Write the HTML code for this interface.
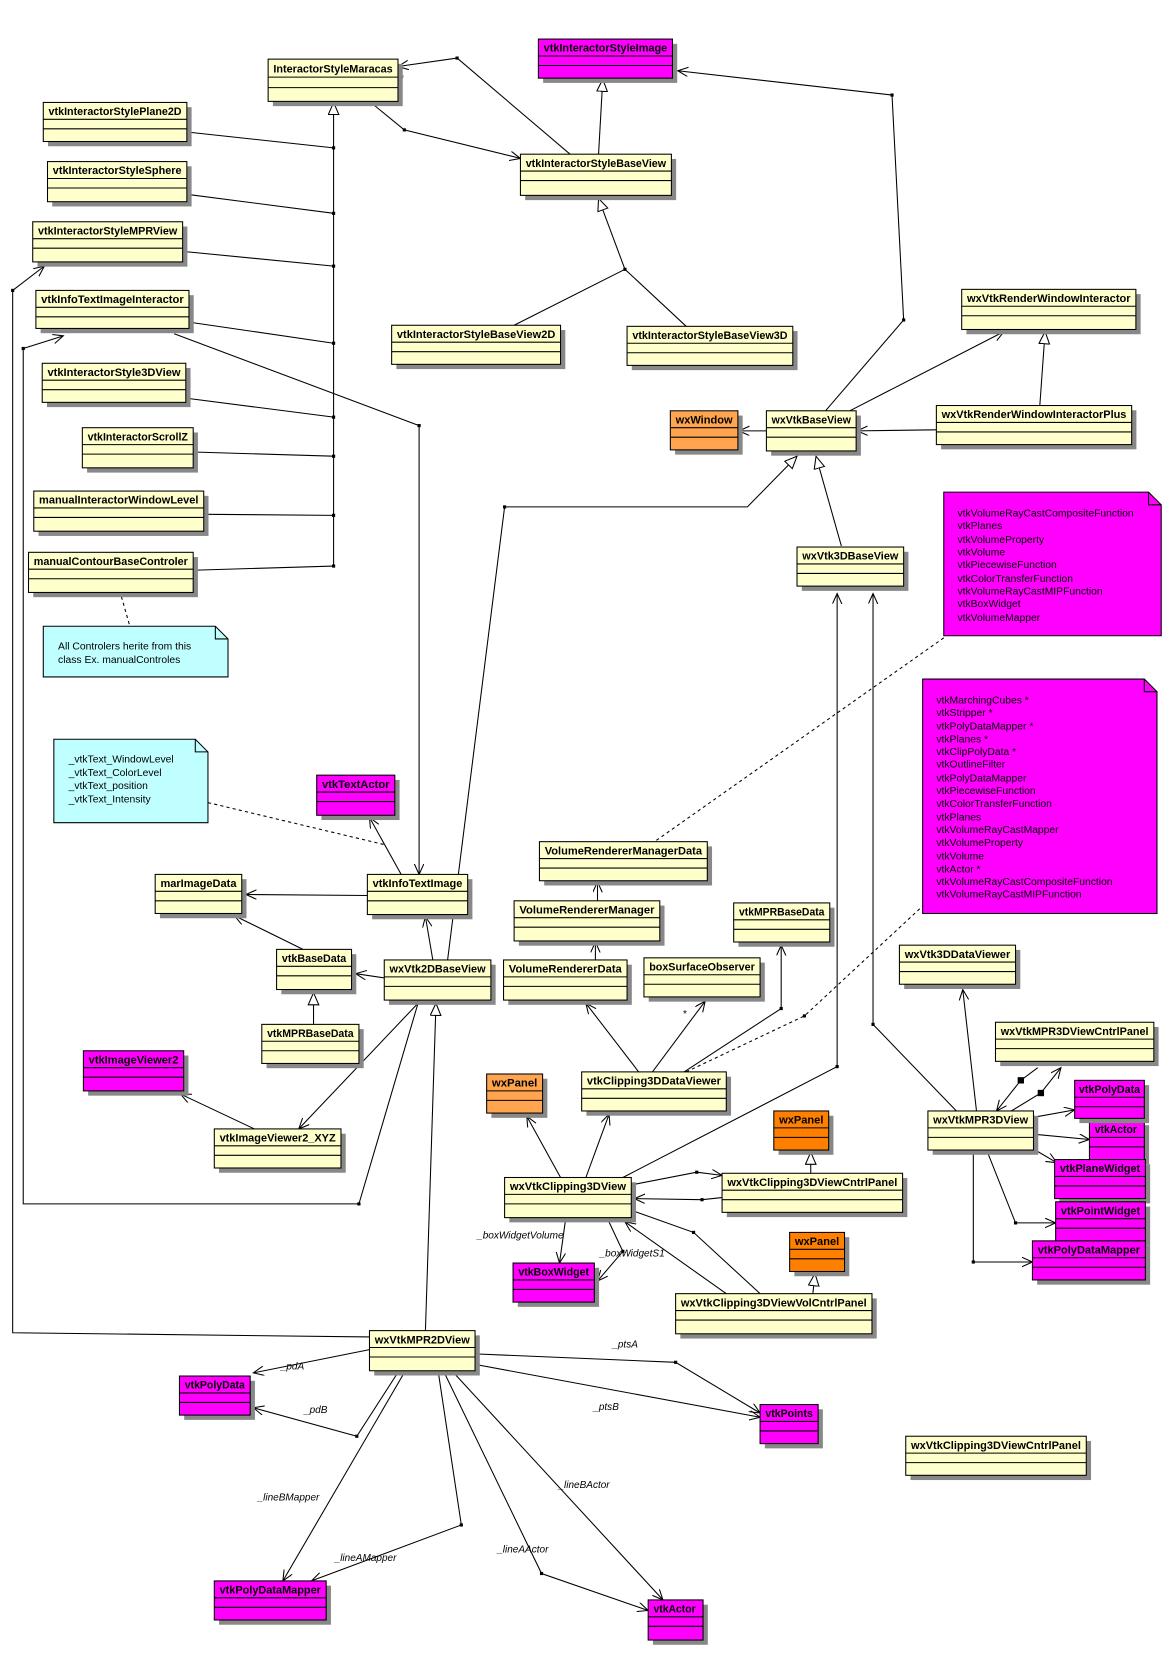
<!DOCTYPE html>
<html><head><meta charset="utf-8"><style>
html,body{margin:0;padding:0;background:#fff;}
svg{display:block;}
.t{font-family:"Liberation Sans",sans-serif;font-weight:bold;font-size:10.5px;}
.n{font-family:"Liberation Sans",sans-serif;font-size:9.8px;}
.l{font-family:"Liberation Sans",sans-serif;font-style:italic;font-size:9.5px;}
</style></head><body>
<svg width="1176" height="1658" viewBox="0 0 1114 1570" preserveAspectRatio="none" xmlns="http://www.w3.org/2000/svg">
<defs>
<marker id="a" markerUnits="userSpaceOnUse" markerWidth="12" markerHeight="10" refX="10" refY="4.5" orient="auto"><path d="M0,0 L10,4.5 L0,9" fill="none" stroke="#000" stroke-width="1"/></marker>
<marker id="tr" markerUnits="userSpaceOnUse" markerWidth="14" markerHeight="12" refX="12" refY="5.5" orient="auto"><path d="M0.5,0.5 L12,5.5 L0.5,10.5 Z" fill="#fff" stroke="#000" stroke-width="1"/></marker>
</defs>
<rect width="1114" height="1570" fill="#fff"/>

<!-- connectors -->
<g fill="none" stroke="#000" stroke-width="1">
<polyline points="316,537 316,97" marker-end="url(#tr)"/>
<polyline points="177,125 316,140"/>
<polyline points="177,184 316,202"/>
<polyline points="173,238 316,252"/>
<polyline points="179,305 316,325"/>
<polyline points="176,377 316,395"/>
<polyline points="183,428 316,432"/>
<polyline points="193,487 316,488"/>
<polyline points="183,540 316,536"/>
<polyline points="350,96 383,123 493,150" marker-end="url(#a)"/>
<polyline points="433,55 377,63" marker-end="url(#a)"/>
<polyline points="433,55 540,146"/>
<polyline points="567,146 571,75" marker-end="url(#tr)"/>
<polyline points="782,389 856,303 845,90 642,67" marker-end="url(#a)"/>
<polyline points="487,308 592,255"/>
<polyline points="650,309 592,255 567,188" marker-end="url(#tr)"/>
<polyline points="726,408 700,408" marker-end="url(#a)"/>
<polyline points="887,407 812,408" marker-end="url(#a)"/>
<polyline points="805,389 951,314" marker-end="url(#a)"/>
<polyline points="985,384 990,314" marker-end="url(#tr)"/>
<polyline points="797,517 773,432" marker-end="url(#tr)"/>
<polyline points="424,909 478,480 708,480 755,432" marker-end="url(#tr)"/>
<polyline points="165,316 397,403 397,828" marker-end="url(#a)"/>
<polyline points="380,828 350,774" marker-end="url(#a)"/>
<polyline points="348,848 233,847" marker-end="url(#a)"/>
<polyline points="287,899 222,867" marker-end="url(#a)"/>
<polyline points="297,970 297,940" marker-end="url(#tr)"/>
<polyline points="364,926 337,922" marker-end="url(#a)"/>
<polyline points="410,909 403,868" marker-end="url(#a)"/>
<polyline points="396,950 283,1069" marker-end="url(#a)"/>
<polyline points="241,1069 171,1036" marker-end="url(#a)"/>
<polyline points="22,330 60,318" marker-end="url(#a)"/>
<polyline points="22,330 22,1140 340,1140 396,950"/>
<polyline points="12,275 42,252" marker-end="url(#a)"/>
<polyline points="12,275 12,1262 350,1266"/>
<polyline points="403,1260 413,950" marker-end="url(#tr)"/>
<polyline points="590,1115 793,1010 793,562" marker-end="url(#a)"/>
<polyline points="906,1052 827,970 827,562" marker-end="url(#a)"/>
<polyline points="925,1052 912,937" marker-end="url(#a)"/>
<polyline points="983,1011 967,1023 944,1052" marker-end="url(#a)"/>
<polyline points="958,1052 986,1035 1005,1011" marker-end="url(#a)"/>
<polyline points="979,1058 1018,1051" marker-end="url(#a)"/>
<polyline points="979,1074 1032,1079" marker-end="url(#a)"/>
<polyline points="979,1088 1001,1101" marker-end="url(#a)"/>
<polyline points="935,1090 962,1158 1000,1158" marker-end="url(#a)"/>
<polyline points="922,1090 922,1195 978,1195" marker-end="url(#a)"/>
<polyline points="605,1015 555,950" marker-end="url(#a)"/>
<polyline points="618,1015 668,948" marker-end="url(#a)"/>
<polyline points="648,1015 740,955 740,895" marker-end="url(#a)"/>
<polyline points="564,909 564,892" marker-end="url(#a)"/>
<polyline points="566,853 566,835" marker-end="url(#a)"/>
<polyline points="531,1115 499,1057" marker-end="url(#a)"/>
<polyline points="555,1115 577,1055" marker-end="url(#a)"/>
<polyline points="598,1122 660,1110 684,1113" marker-end="url(#a)"/>
<polyline points="684,1134 665,1136 601,1135" marker-end="url(#a)"/>
<polyline points="598,1146 657,1167 720,1225"/>
<polyline points="688,1225 592,1157" marker-end="url(#a)"/>
<polyline points="768,1111 768,1091" marker-end="url(#tr)"/>
<polyline points="770,1225 772,1206" marker-end="url(#tr)"/>
<polyline points="536,1153 530,1196" marker-end="url(#a)"/>
<polyline points="575,1153 590,1185 566,1213" marker-end="url(#a)"/>
<polyline points="350,1278 240,1300" marker-end="url(#a)"/>
<polyline points="378,1298 338,1360 240,1333" marker-end="url(#a)"/>
<polyline points="384,1298 268,1497" marker-end="url(#a)"/>
<polyline points="415,1298 437,1444 295,1497" marker-end="url(#a)"/>
<polyline points="420,1298 513,1490 614,1525" marker-end="url(#a)"/>
<polyline points="428,1298 628,1515" marker-end="url(#a)"/>
<polyline points="450,1282 640,1290 720,1338" marker-end="url(#a)"/>
<polyline points="450,1292 720,1342" marker-end="url(#a)"/>
</g>
<g fill="none" stroke="#000" stroke-width="1" stroke-dasharray="3,3">
<polyline points="197,760 365,800"/>
<polyline points="894,604 620,797"/>
<polyline points="650,1015 762,962 874,858"/>
<polyline points="115,565 123,593"/>
</g>
<g fill="#000">
<rect x="314.5" y="138.5" width="3" height="3"/><rect x="314.5" y="200.5" width="3" height="3"/>
<rect x="314.5" y="250.5" width="3" height="3"/><rect x="314.5" y="323.5" width="3" height="3"/>
<rect x="314.5" y="393.5" width="3" height="3"/><rect x="314.5" y="430.5" width="3" height="3"/>
<rect x="314.5" y="486.5" width="3" height="3"/><rect x="314.5" y="534.5" width="3" height="3"/>
<rect x="381.5" y="121.5" width="3" height="3"/><rect x="431.5" y="53.5" width="3" height="3"/>
<rect x="843.5" y="88.5" width="3" height="3"/><rect x="854.5" y="301.5" width="3" height="3"/>
<rect x="590.5" y="253.5" width="3" height="3"/><rect x="476.5" y="478.5" width="3" height="3"/>
<rect x="395.5" y="401.5" width="3" height="3"/><rect x="20.5" y="328.5" width="3" height="3"/>
<rect x="10.5" y="273.5" width="3" height="3"/><rect x="338.5" y="1138.5" width="3" height="3"/>
<rect x="791.5" y="1008.5" width="3" height="3"/><rect x="825.5" y="968.5" width="3" height="3"/>
<rect x="964" y="1020" width="6" height="6"/><rect x="983" y="1032" width="6" height="6"/>
<rect x="960.5" y="1156.5" width="3" height="3"/><rect x="920.5" y="1193.5" width="3" height="3"/>
<rect x="738.5" y="953.5" width="3" height="3"/><rect x="760.5" y="960.5" width="3" height="3"/>
<rect x="658.5" y="1108.5" width="3" height="3"/><rect x="663.5" y="1134.5" width="3" height="3"/>
<rect x="655.5" y="1165.5" width="3" height="3"/><rect x="588.5" y="1183.5" width="3" height="3"/>
<rect x="336.5" y="1358.5" width="3" height="3"/><rect x="435.5" y="1442.5" width="3" height="3"/>
<rect x="511.5" y="1488.5" width="3" height="3"/><rect x="638.5" y="1288.5" width="3" height="3"/>
</g>

<!-- labels -->
<g class="l">
<text x="379" y="77" style="font-style:normal">*</text>
<text x="647" y="963" style="font-style:normal">*</text>
<text x="452" y="1173">_boxWidgetVolume</text>
<text x="568" y="1190">_boxWidgetS1</text>
<text x="266" y="1297">_pdA</text>
<text x="288" y="1338">_pdB</text>
<text x="244" y="1421">_lineBMapper</text>
<text x="317" y="1478">_lineAMapper</text>
<text x="471" y="1470">_lineAActor</text>
<text x="529" y="1409">_lineBActor</text>
<text x="580" y="1276">_ptsA</text>
<text x="562" y="1335">_ptsB</text>
</g>

<!-- notes -->
<path d="M894,466 H1088 L1100,478 V602 H894 Z" fill="#ff00ff" stroke="#000"/>
<path d="M1088,466 V478 H1100" fill="none" stroke="#000"/>
<g class="n">
<text x="907" y="489">vtkVolumeRayCastCompositeFunction</text>
<text x="907" y="501">vtkPlanes</text>
<text x="907" y="514">vtkVolumeProperty</text>
<text x="907" y="526">vtkVolume</text>
<text x="907" y="538">vtkPiecewiseFunction</text>
<text x="907" y="551">vtkColorTransferFunction</text>
<text x="907" y="563">vtkVolumeRayCastMIPFunction</text>
<text x="907" y="575">vtkBoxWidget</text>
<text x="907" y="588">vtkVolumeMapper</text>
</g>
<path d="M874,643 H1084 L1096,655 V865 H874 Z" fill="#ff00ff" stroke="#000"/>
<path d="M1084,643 V655 H1096" fill="none" stroke="#000"/>
<g class="n">
<text x="887" y="666">vtkMarchingCubes *</text>
<text x="887" y="678">vtkStripper *</text>
<text x="887" y="691">vtkPolyDataMapper *</text>
<text x="887" y="703">vtkPlanes *</text>
<text x="887" y="715">vtkClipPolyData *</text>
<text x="887" y="727">vtkOutlineFilter</text>
<text x="887" y="740">vtkPolyDataMapper</text>
<text x="887" y="752">vtkPiecewiseFunction</text>
<text x="887" y="764">vtkColorTransferFunction</text>
<text x="887" y="777">vtkPlanes</text>
<text x="887" y="789">vtkVolumeRayCastMapper</text>
<text x="887" y="801">vtkVolumeProperty</text>
<text x="887" y="814">vtkVolume</text>
<text x="887" y="826">vtkActor *</text>
<text x="887" y="838">vtkVolumeRayCastCompositeFunction</text>
<text x="887" y="850">vtkVolumeRayCastMIPFunction</text>
</g>
<path d="M41,593 H204 L216,605 V641 H41 Z" fill="#c0ffff" stroke="#000"/>
<path d="M204,593 V605 H216" fill="none" stroke="#000"/>
<g class="n"><text x="55" y="615">All Controlers herite from this</text><text x="55" y="628">class Ex. manualControles</text></g>
<path d="M51,700 H185 L197,712 V779 H51 Z" fill="#c0ffff" stroke="#000"/>
<path d="M185,700 V712 H197" fill="none" stroke="#000"/>
<g class="n">
<text x="65" y="722">_vtkText_WindowLevel</text>
<text x="65" y="735">_vtkText_ColorLevel</text>
<text x="65" y="747">_vtkText_position</text>
<text x="65" y="760">_vtkText_Intensity</text>
</g>

<!-- boxes -->
<g stroke="#000" stroke-width="1">
<!-- template: shadow, box, lines, title -->
<g><rect x="258.5" y="60.5" width="123" height="40" fill="#888" stroke="none"/><rect x="254" y="56" width="123" height="40" fill="#ffffcc"/><path d="M254,73H377M254,83H377"/><text class="t" stroke="none" x="259" y="68.5" textLength="113" lengthAdjust="spacingAndGlyphs">InteractorStyleMaracas</text></g>
<g><rect x="514.5" y="41.5" width="127" height="37" fill="#888" stroke="none"/><rect x="510" y="37" width="127" height="37" fill="#ff00ff"/><path d="M510,53H637M510,62H637"/><text class="t" stroke="none" x="515" y="49" textLength="117" lengthAdjust="spacingAndGlyphs">vtkInteractorStyleImage</text></g>
<g><rect x="45.5" y="101.5" width="136" height="37" fill="#888" stroke="none"/><rect x="41" y="97" width="136" height="37" fill="#ffffcc"/><path d="M41,113H177M41,122H177"/><text class="t" stroke="none" x="46" y="109" textLength="126" lengthAdjust="spacingAndGlyphs">vtkInteractorStylePlane2D</text></g>
<g><rect x="49.5" y="157.5" width="132" height="38" fill="#888" stroke="none"/><rect x="45" y="153" width="132" height="38" fill="#ffffcc"/><path d="M45,169H177M45,178H177"/><text class="t" stroke="none" x="50" y="165" textLength="122" lengthAdjust="spacingAndGlyphs">vtkInteractorStyleSphere</text></g>
<g><rect x="35.5" y="214.5" width="142" height="38" fill="#888" stroke="none"/><rect x="31" y="210" width="142" height="38" fill="#ffffcc"/><path d="M31,226H173M31,235H173"/><text class="t" stroke="none" x="36" y="222" textLength="132" lengthAdjust="spacingAndGlyphs">vtkInteractorStyleMPRView</text></g>
<g><rect x="38.5" y="279.5" width="145" height="36" fill="#888" stroke="none"/><rect x="34" y="275" width="145" height="36" fill="#ffffcc"/><path d="M34,291H179M34,300H179"/><text class="t" stroke="none" x="39" y="287" textLength="135" lengthAdjust="spacingAndGlyphs">vtkInfoTextImageInteractor</text></g>
<g><rect x="497.5" y="150.5" width="143" height="39" fill="#888" stroke="none"/><rect x="493" y="146" width="143" height="39" fill="#ffffcc"/><path d="M493,162H636M493,171H636"/><text class="t" stroke="none" x="498" y="158" textLength="133" lengthAdjust="spacingAndGlyphs">vtkInteractorStyleBaseView</text></g>
<g><rect x="375.5" y="312.5" width="160" height="37" fill="#888" stroke="none"/><rect x="371" y="308" width="160" height="37" fill="#ffffcc"/><path d="M371,324H531M371,333H531"/><text class="t" stroke="none" x="376" y="320" textLength="150" lengthAdjust="spacingAndGlyphs">vtkInteractorStyleBaseView2D</text></g>
<g><rect x="598.5" y="313.5" width="157" height="37" fill="#888" stroke="none"/><rect x="594" y="309" width="157" height="37" fill="#ffffcc"/><path d="M594,325H751M594,334H751"/><text class="t" stroke="none" x="599" y="321" textLength="147" lengthAdjust="spacingAndGlyphs">vtkInteractorStyleBaseView3D</text></g>
<g><rect x="915.5" y="278.5" width="165" height="38" fill="#888" stroke="none"/><rect x="911" y="274" width="165" height="38" fill="#ffffcc"/><path d="M911,290H1076M911,299H1076"/><text class="t" stroke="none" x="916" y="286" textLength="155" lengthAdjust="spacingAndGlyphs">wxVtkRenderWindowInteractor</text></g>
<g><rect x="44.5" y="348.5" width="136" height="37" fill="#888" stroke="none"/><rect x="40" y="344" width="136" height="37" fill="#ffffcc"/><path d="M40,360H176M40,369H176"/><text class="t" stroke="none" x="45" y="356" textLength="126" lengthAdjust="spacingAndGlyphs">vtkInteractorStyle3DView</text></g>
<g><rect x="82.5" y="409.5" width="105" height="38" fill="#888" stroke="none"/><rect x="78" y="405" width="105" height="38" fill="#ffffcc"/><path d="M78,421H183M78,430H183"/><text class="t" stroke="none" x="83" y="417" textLength="95" lengthAdjust="spacingAndGlyphs">vtkInteractorScrollZ</text></g>
<g><rect x="36.5" y="469.5" width="161" height="38" fill="#888" stroke="none"/><rect x="32" y="465" width="161" height="38" fill="#ffffcc"/><path d="M32,481H193M32,490H193"/><text class="t" stroke="none" x="37" y="477" textLength="151" lengthAdjust="spacingAndGlyphs">manualInteractorWindowLevel</text></g>
<g><rect x="31.5" y="527.5" width="156" height="38" fill="#888" stroke="none"/><rect x="27" y="523" width="156" height="38" fill="#ffffcc"/><path d="M27,539H183M27,548H183"/><text class="t" stroke="none" x="32" y="535" textLength="146" lengthAdjust="spacingAndGlyphs">manualContourBaseControler</text></g>
<g><rect x="639.5" y="393.5" width="64" height="37" fill="#888" stroke="none"/><rect x="635" y="389" width="64" height="37" fill="#ffa54f"/><path d="M635,405H699M635,414H699"/><text class="t" stroke="none" x="640" y="401" textLength="54" lengthAdjust="spacingAndGlyphs">wxWindow</text></g>
<g><rect x="730.5" y="393.5" width="85" height="38" fill="#888" stroke="none"/><rect x="726" y="389" width="85" height="38" fill="#ffffcc"/><path d="M726,405H811M726,414H811"/><text class="t" stroke="none" x="731" y="401" textLength="75" lengthAdjust="spacingAndGlyphs">wxVtkBaseView</text></g>
<g><rect x="891.5" y="388.5" width="185" height="37" fill="#888" stroke="none"/><rect x="887" y="384" width="185" height="37" fill="#ffffcc"/><path d="M887,400H1072M887,409H1072"/><text class="t" stroke="none" x="892" y="396" textLength="175" lengthAdjust="spacingAndGlyphs">wxVtkRenderWindowInteractorPlus</text></g>
<g><rect x="759.5" y="522.5" width="101" height="37" fill="#888" stroke="none"/><rect x="755" y="518" width="101" height="37" fill="#ffffcc"/><path d="M755,534H856M755,543H856"/><text class="t" stroke="none" x="760" y="530" textLength="91" lengthAdjust="spacingAndGlyphs">wxVtk3DBaseView</text></g>
<g><rect x="304.5" y="738.5" width="74" height="38" fill="#888" stroke="none"/><rect x="300" y="734" width="74" height="38" fill="#ff00ff"/><path d="M300,750H374M300,759H374"/><text class="t" stroke="none" x="305" y="746" textLength="64" lengthAdjust="spacingAndGlyphs">vtkTextActor</text></g>
<g><rect x="515.5" y="801.5" width="159" height="37" fill="#888" stroke="none"/><rect x="511" y="797" width="159" height="37" fill="#ffffcc"/><path d="M511,813H670M511,822H670"/><text class="t" stroke="none" x="516" y="809" textLength="149" lengthAdjust="spacingAndGlyphs">VolumeRendererManagerData</text></g>
<g><rect x="151.5" y="832.5" width="82" height="37" fill="#888" stroke="none"/><rect x="147" y="828" width="82" height="37" fill="#ffffcc"/><path d="M147,844H229M147,853H229"/><text class="t" stroke="none" x="152" y="840" textLength="72" lengthAdjust="spacingAndGlyphs">marImageData</text></g>
<g><rect x="352.5" y="832.5" width="95" height="38" fill="#888" stroke="none"/><rect x="348" y="828" width="95" height="38" fill="#ffffcc"/><path d="M348,844H443M348,853H443"/><text class="t" stroke="none" x="353" y="840" textLength="85" lengthAdjust="spacingAndGlyphs">vtkInfoTextImage</text></g>
<g><rect x="491.5" y="857.5" width="138" height="38" fill="#888" stroke="none"/><rect x="487" y="853" width="138" height="38" fill="#ffffcc"/><path d="M487,869H625M487,878H625"/><text class="t" stroke="none" x="492" y="865" textLength="128" lengthAdjust="spacingAndGlyphs">VolumeRendererManager</text></g>
<g><rect x="699.5" y="859.5" width="91" height="37" fill="#888" stroke="none"/><rect x="695" y="855" width="91" height="37" fill="#ffffcc"/><path d="M695,871H786M695,880H786"/><text class="t" stroke="none" x="700" y="867" textLength="81" lengthAdjust="spacingAndGlyphs">vtkMPRBaseData</text></g>
<g><rect x="856.5" y="899.5" width="110" height="37" fill="#888" stroke="none"/><rect x="852" y="895" width="110" height="37" fill="#ffffcc"/><path d="M852,911H962M852,920H962"/><text class="t" stroke="none" x="857" y="907" textLength="100" lengthAdjust="spacingAndGlyphs">wxVtk3DDataViewer</text></g>
<g><rect x="266.5" y="903.5" width="71" height="38" fill="#888" stroke="none"/><rect x="262" y="899" width="71" height="38" fill="#ffffcc"/><path d="M262,915H333M262,924H333"/><text class="t" stroke="none" x="267" y="911" textLength="61" lengthAdjust="spacingAndGlyphs">vtkBaseData</text></g>
<g><rect x="368.5" y="913.5" width="101" height="38" fill="#888" stroke="none"/><rect x="364" y="909" width="101" height="38" fill="#ffffcc"/><path d="M364,925H465M364,934H465"/><text class="t" stroke="none" x="369" y="921" textLength="91" lengthAdjust="spacingAndGlyphs">wxVtk2DBaseView</text></g>
<g><rect x="481.5" y="913.5" width="117" height="38" fill="#888" stroke="none"/><rect x="477" y="909" width="117" height="38" fill="#ffffcc"/><path d="M477,925H594M477,934H594"/><text class="t" stroke="none" x="482" y="921" textLength="107" lengthAdjust="spacingAndGlyphs">VolumeRendererData</text></g>
<g><rect x="614.5" y="911.5" width="110" height="37" fill="#888" stroke="none"/><rect x="610" y="907" width="110" height="37" fill="#ffffcc"/><path d="M610,923H720M610,932H720"/><text class="t" stroke="none" x="615" y="919" textLength="100" lengthAdjust="spacingAndGlyphs">boxSurfaceObserver</text></g>
<g><rect x="252.5" y="974.5" width="92" height="37" fill="#888" stroke="none"/><rect x="248" y="970" width="92" height="37" fill="#ffffcc"/><path d="M248,986H340M248,995H340"/><text class="t" stroke="none" x="253" y="982" textLength="82" lengthAdjust="spacingAndGlyphs">vtkMPRBaseData</text></g>
<g><rect x="947.5" y="972.5" width="150" height="37" fill="#888" stroke="none"/><rect x="943" y="968" width="150" height="37" fill="#ffffcc"/><path d="M943,984H1093M943,993H1093"/><text class="t" stroke="none" x="948" y="980" textLength="140" lengthAdjust="spacingAndGlyphs">wxVtkMPR3DViewCntrlPanel</text></g>
<g><rect x="83.5" y="999.5" width="95" height="38" fill="#888" stroke="none"/><rect x="79" y="995" width="95" height="38" fill="#ff00ff"/><path d="M79,1011H174M79,1020H174"/><text class="t" stroke="none" x="84" y="1007" textLength="85" lengthAdjust="spacingAndGlyphs">vtkImageViewer2</text></g>
<g><rect x="465.5" y="1021.5" width="53" height="37" fill="#888" stroke="none"/><rect x="461" y="1017" width="53" height="37" fill="#ffa54f"/><path d="M461,1033H514M461,1042H514"/><text class="t" stroke="none" x="466" y="1029" textLength="43" lengthAdjust="spacingAndGlyphs">wxPanel</text></g>
<g><rect x="555.5" y="1019.5" width="137" height="37" fill="#888" stroke="none"/><rect x="551" y="1015" width="137" height="37" fill="#ffffcc"/><path d="M551,1031H688M551,1040H688"/><text class="t" stroke="none" x="556" y="1027" textLength="127" lengthAdjust="spacingAndGlyphs">vtkClipping3DDataViewer</text></g>
<g><rect x="883.5" y="1056.5" width="100" height="37" fill="#888" stroke="none"/><rect x="879" y="1052" width="100" height="37" fill="#ffffcc"/><path d="M879,1068H979M879,1077H979"/><text class="t" stroke="none" x="884" y="1064" textLength="90" lengthAdjust="spacingAndGlyphs">wxVtkMPR3DView</text></g>
<g><rect x="737.5" y="1056.5" width="52" height="37" fill="#888" stroke="none"/><rect x="733" y="1052" width="52" height="37" fill="#ff8000"/><path d="M733,1068H785M733,1077H785"/><text class="t" stroke="none" x="738" y="1064" textLength="42" lengthAdjust="spacingAndGlyphs">wxPanel</text></g>
<g><rect x="1036.5" y="1065.5" width="52" height="37" fill="#888" stroke="none"/><rect x="1032" y="1061" width="52" height="37" fill="#ff00ff"/><path d="M1032,1077H1084M1032,1086H1084"/><text class="t" stroke="none" x="1037" y="1073" textLength="40" lengthAdjust="spacingAndGlyphs">vtkActor</text></g>
<g><rect x="1022.5" y="1027.5" width="66" height="36" fill="#888" stroke="none"/><rect x="1018" y="1023" width="66" height="36" fill="#ff00ff"/><path d="M1018,1039H1084M1018,1048H1084"/><text class="t" stroke="none" x="1022" y="1035" textLength="58" lengthAdjust="spacingAndGlyphs">vtkPolyData</text></g>
<g><rect x="207.5" y="1073.5" width="120" height="37" fill="#888" stroke="none"/><rect x="203" y="1069" width="120" height="37" fill="#ffffcc"/><path d="M203,1085H323M203,1094H323"/><text class="t" stroke="none" x="208" y="1081" textLength="110" lengthAdjust="spacingAndGlyphs">vtkImageViewer2_XYZ</text></g>
<g><rect x="1003.5" y="1102.5" width="86" height="37" fill="#888" stroke="none"/><rect x="999" y="1098" width="86" height="37" fill="#ff00ff"/><path d="M999,1114H1085M999,1123H1085"/><text class="t" stroke="none" x="1004" y="1110" textLength="76" lengthAdjust="spacingAndGlyphs">vtkPlaneWidget</text></g>
<g><rect x="688.5" y="1115.5" width="171" height="37" fill="#888" stroke="none"/><rect x="684" y="1111" width="171" height="37" fill="#ffffcc"/><path d="M684,1127H855M684,1136H855"/><text class="t" stroke="none" x="689" y="1123" textLength="161" lengthAdjust="spacingAndGlyphs">wxVtkClipping3DViewCntrlPanel</text></g>
<g><rect x="482.5" y="1119.5" width="120" height="38" fill="#888" stroke="none"/><rect x="478" y="1115" width="120" height="38" fill="#ffffcc"/><path d="M478,1131H598M478,1140H598"/><text class="t" stroke="none" x="483" y="1127" textLength="110" lengthAdjust="spacingAndGlyphs">wxVtkClipping3DView</text></g>
<g><rect x="1004.5" y="1142.5" width="85" height="37" fill="#888" stroke="none"/><rect x="1000" y="1138" width="85" height="37" fill="#ff00ff"/><path d="M1000,1154H1085M1000,1163H1085"/><text class="t" stroke="none" x="1005" y="1150" textLength="75" lengthAdjust="spacingAndGlyphs">vtkPointWidget</text></g>
<g><rect x="752.5" y="1171.5" width="52" height="37" fill="#888" stroke="none"/><rect x="748" y="1167" width="52" height="37" fill="#ff8000"/><path d="M748,1183H800M748,1192H800"/><text class="t" stroke="none" x="753" y="1179" textLength="42" lengthAdjust="spacingAndGlyphs">wxPanel</text></g>
<g><rect x="982.5" y="1179.5" width="107" height="37" fill="#888" stroke="none"/><rect x="978" y="1175" width="107" height="37" fill="#ff00ff"/><path d="M978,1191H1085M978,1200H1085"/><text class="t" stroke="none" x="983" y="1187" textLength="97" lengthAdjust="spacingAndGlyphs">vtkPolyDataMapper</text></g>
<g><rect x="490.5" y="1200.5" width="77" height="37" fill="#888" stroke="none"/><rect x="486" y="1196" width="77" height="37" fill="#ff00ff"/><path d="M486,1212H563M486,1221H563"/><text class="t" stroke="none" x="491" y="1208" textLength="67" lengthAdjust="spacingAndGlyphs">vtkBoxWidget</text></g>
<g><rect x="644.5" y="1229.5" width="186" height="38" fill="#888" stroke="none"/><rect x="640" y="1225" width="186" height="38" fill="#ffffcc"/><path d="M640,1241H826M640,1250H826"/><text class="t" stroke="none" x="645" y="1237" textLength="176" lengthAdjust="spacingAndGlyphs">wxVtkClipping3DViewVolCntrlPanel</text></g>
<g><rect x="354.5" y="1264.5" width="100" height="38" fill="#888" stroke="none"/><rect x="350" y="1260" width="100" height="38" fill="#ffffcc"/><path d="M350,1276H450M350,1285H450"/><text class="t" stroke="none" x="355" y="1272" textLength="90" lengthAdjust="spacingAndGlyphs">wxVtkMPR2DView</text></g>
<g><rect x="174.5" y="1307.5" width="67" height="37" fill="#888" stroke="none"/><rect x="170" y="1303" width="67" height="37" fill="#ff00ff"/><path d="M170,1319H237M170,1328H237"/><text class="t" stroke="none" x="175" y="1315" textLength="57" lengthAdjust="spacingAndGlyphs">vtkPolyData</text></g>
<g><rect x="724.5" y="1334.5" width="55" height="37" fill="#888" stroke="none"/><rect x="720" y="1330" width="55" height="37" fill="#ff00ff"/><path d="M720,1346H775M720,1355H775"/><text class="t" stroke="none" x="725" y="1342" textLength="45" lengthAdjust="spacingAndGlyphs">vtkPoints</text></g>
<g><rect x="862.5" y="1364.5" width="171" height="37" fill="#888" stroke="none"/><rect x="858" y="1360" width="171" height="37" fill="#ffffcc"/><path d="M858,1376H1029M858,1385H1029"/><text class="t" stroke="none" x="863" y="1372" textLength="161" lengthAdjust="spacingAndGlyphs">wxVtkClipping3DViewCntrlPanel</text></g>
<g><rect x="207.5" y="1501.5" width="106" height="37" fill="#888" stroke="none"/><rect x="203" y="1497" width="106" height="37" fill="#ff00ff"/><path d="M203,1513H309M203,1522H309"/><text class="t" stroke="none" x="208" y="1509" textLength="96" lengthAdjust="spacingAndGlyphs">vtkPolyDataMapper</text></g>
<g><rect x="618.5" y="1519.5" width="52" height="38" fill="#888" stroke="none"/><rect x="614" y="1515" width="52" height="38" fill="#ff00ff"/><path d="M614,1531H666M614,1540H666"/><text class="t" stroke="none" x="619" y="1527" textLength="40" lengthAdjust="spacingAndGlyphs">vtkActor</text></g>
</g>
</svg>
</body></html>
